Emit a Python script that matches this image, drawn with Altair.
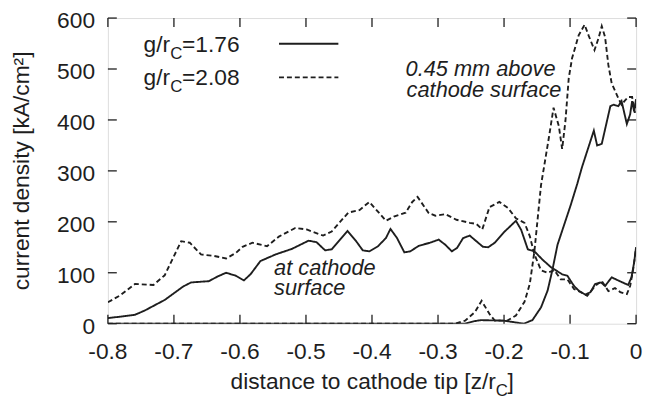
import altair as alt
import pandas as pd

# ---- data ----
# at cathode surface, g/rC = 1.76 (solid)
surf_176_x = [-0.8, -0.78, -0.759, -0.744, -0.714, -0.686, -0.674, -0.647, -0.634, -0.621, -0.606, -0.594,
              -0.584, -0.569, -0.546, -0.521, -0.496, -0.484, -0.471, -0.461, -0.437, -0.424, -0.414, -0.404,
              -0.391, -0.379, -0.372, -0.362, -0.351, -0.342, -0.329, -0.312, -0.299, -0.289, -0.279, -0.271,
              -0.262, -0.252, -0.242, -0.232, -0.224, -0.214, -0.199, -0.182, -0.174, -0.164, -0.154, -0.142,
              -0.129, -0.112, -0.104, -0.094, -0.087, -0.077, -0.069, -0.062, -0.053, -0.047, -0.037, -0.024,
              -0.012, -0.007, -0.003, 0.0]
surf_176_y = [11, 14, 17.5, 26, 46.6, 73, 81, 83.5, 92.6, 100, 94, 85,
              97, 123, 136, 147, 163, 160, 144, 146, 182, 162, 144, 142,
              152, 168, 186, 168, 140, 142, 153, 159, 165, 155, 142, 149,
              168, 173, 162, 151, 150, 159, 181, 202, 184, 146, 142, 126,
              111, 97, 94, 74, 65, 57, 62, 78, 81, 74, 91, 83,
              76, 91, 120, 150]

# at cathode surface, g/rC = 2.08 (dashed)
surf_208_x = [-0.8, -0.781, -0.759, -0.731, -0.714, -0.689, -0.676, -0.659, -0.639, -0.621, -0.606, -0.596,
              -0.581, -0.559, -0.541, -0.516, -0.499, -0.474, -0.461, -0.436, -0.419, -0.404, -0.391, -0.379,
              -0.367, -0.349, -0.339, -0.331, -0.314, -0.304, -0.289, -0.272, -0.252, -0.242, -0.233, -0.222,
              -0.207, -0.194, -0.182, -0.169, -0.161, -0.154, -0.144, -0.134, -0.124, -0.114, -0.104, -0.094,
              -0.084, -0.074, -0.062, -0.052, -0.042, -0.032, -0.024, -0.014, -0.009, -0.004, 0.0]
surf_208_y = [42, 56, 78, 76, 95, 162, 159, 136, 133, 128, 139, 151,
              159, 152, 171, 188, 185, 173, 181, 218, 223, 239, 220, 202,
              210, 218, 239, 249, 217, 212, 215, 204, 198, 196, 185, 229,
              239, 227, 207, 198, 172, 136, 105, 100, 105, 87, 87, 68,
              62, 55, 74, 84, 64, 70, 62, 58, 74, 110, 150]

# 0.45 mm above cathode surface, g/rC = 1.76 (solid)
above_176_x = [-0.8, -0.26, -0.245, -0.235, -0.2, -0.185, -0.17, -0.157, -0.144, -0.134, -0.127, -0.119,
               -0.109, -0.099, -0.089, -0.082, -0.077, -0.064, -0.059, -0.052, -0.039, -0.034, -0.027, -0.022,
               -0.014, -0.009, -0.006, -0.003, 0.0]
above_176_y = [0, 0, 5, 7, 6, 3, 0, 7, 32, 65, 104, 155,
               194, 233, 275, 307, 327, 379, 350, 353, 427, 430, 427, 437,
               392, 411, 437, 417, 441]

# 0.45 mm above cathode surface, g/rC = 2.08 (dashed)
above_208_x = [-0.8, -0.274, -0.259, -0.244, -0.234, -0.222, -0.214, -0.195, -0.182, -0.169, -0.161, -0.154,
               -0.149, -0.144, -0.139, -0.132, -0.125, -0.117, -0.112, -0.107, -0.102, -0.097, -0.087, -0.078,
               -0.072, -0.063, -0.057, -0.052, -0.047, -0.042, -0.037, -0.027, -0.022, -0.017, -0.012, -0.006,
               -0.002, 0.0]
above_208_y = [0, 0, 6, 23, 45, 19, 6, 6, 16, 43, 78, 142,
               207, 272, 311, 366, 424, 388, 343, 398, 482, 521, 566, 587,
               566, 537, 560, 584, 563, 508, 472, 443, 430, 438, 445, 445,
               414, 437]

x_ticks = [-0.8, -0.7, -0.6, -0.5, -0.4, -0.3, -0.2, -0.1, 0.0]
x_tick_labels = ["-0.8", "-0.7", "-0.6", "-0.5", "-0.4", "-0.3", "-0.2", "-0.1", "0"]
y_ticks = [0, 100, 200, 300, 400, 500, 600]
y_tick_labels = ["0", "100", "200", "300", "400", "500", "600"]

# ---- build table ----
rows = []
for name, style, xs, ys in [
    ("surf176", "solid", surf_176_x, surf_176_y),
    ("surf208", "dashed", surf_208_x, surf_208_y),
    ("above176", "solid", above_176_x, above_176_y),
    ("above208", "dashed", above_208_x, above_208_y),
]:
    for i, (xv, yv) in enumerate(zip(xs, ys)):
        rows.append({"curve": name, "style": style, "x": xv, "y": yv, "order": i})
df = pd.DataFrame(rows)

W, H = 534, 309
FONT = "Liberation Sans"
INK = "#1e1e1e"
FS = 23
SUB = 17

xscale = alt.Scale(domain=[-0.8, 0], nice=False, zero=False)
yscale = alt.Scale(domain=[0, 600], nice=False)

lines = alt.Chart(df).mark_line(strokeWidth=1.9, color=INK, clip=True).encode(
    x=alt.X("x:Q", scale=xscale, axis=None),
    y=alt.Y("y:Q", scale=yscale, axis=None),
    detail="curve:N",
    order="order:Q",
    strokeDash=alt.StrokeDash("style:N", scale=alt.Scale(domain=["solid", "dashed"], range=[[1, 0], [5, 3]]),
                              legend=None),
)

xt = pd.DataFrame({"v": x_ticks, "lab": x_tick_labels})
yt = pd.DataFrame({"v": y_ticks, "lab": y_tick_labels})
tick_style = dict(color=INK, strokeWidth=1.3)
xtick_b = alt.Chart(xt).mark_rule(**tick_style).encode(
    x=alt.X("v:Q", scale=xscale, axis=None), y=alt.value(H), y2=alt.value(H - 9))
xtick_t = alt.Chart(xt).mark_rule(**tick_style).encode(
    x=alt.X("v:Q", scale=xscale, axis=None), y=alt.value(0), y2=alt.value(9))
ytick_l = alt.Chart(yt).mark_rule(**tick_style).encode(
    y=alt.Y("v:Q", scale=yscale, axis=None), x=alt.value(0), x2=alt.value(9))
ytick_r = alt.Chart(yt).mark_rule(**tick_style).encode(
    y=alt.Y("v:Q", scale=yscale, axis=None), x=alt.value(W), x2=alt.value(W - 9))

xlab = alt.Chart(xt).mark_text(font=FONT, fontSize=FS, color=INK, align="center", baseline="top").encode(
    x=alt.X("v:Q", scale=xscale, axis=None), y=alt.value(H + 18), text="lab:N")
ylab = alt.Chart(yt).mark_text(font=FONT, fontSize=FS, color=INK, align="right", baseline="middle",
                               dy=3).encode(
    y=alt.Y("v:Q", scale=yscale, axis=None), x=alt.value(-13), text="lab:N")


def label(txt, px, py, size=FS, italic=False, align="left", baseline="alphabetic", angle=0):
    kw = dict(font=FONT, fontSize=size, color=INK, align=align, baseline=baseline)
    if italic:
        kw["fontStyle"] = "italic"
    if angle:
        kw["angle"] = angle
    return alt.Chart(pd.DataFrame({"t": [txt]})).mark_text(**kw).encode(
        text="t:N", x=alt.value(px), y=alt.value(py))


texts = [
    # legend
    label("g/r", 36, 34), label("C", 63, 41, size=SUB), label("=1.76", 75, 34),
    label("g/r", 36, 68), label("C", 63, 75, size=SUB), label("=2.08", 75, 68),
    # annotations
    label("0.45 mm above", 301, 59, size=22, italic=True),
    label("cathode surface", 302, 80, size=22, italic=True),
    label("at cathode", 168, 260, size=22, italic=True),
    label("surface", 168, 280, size=22, italic=True),
    # axis titles
    label("distance to cathode tip [z/r", 124, 375), label("C", 392, 382, size=SUB), label("]", 404, 375),
    label("current density [kA/cm²]", -87, H / 2, align="center", baseline="middle", angle=270),
]

leg_lines = [
    alt.Chart(pd.DataFrame({"s": ["solid"]})).mark_rule(color=INK, strokeWidth=1.9).encode(
        x=alt.value(173), x2=alt.value(233), y=alt.value(26)),
    alt.Chart(pd.DataFrame({"s": ["dashed"]})).mark_rule(color=INK, strokeWidth=1.9, strokeDash=[5, 3]).encode(
        x=alt.value(173), x2=alt.value(233), y=alt.value(60)),
]

chart = alt.layer(lines, xtick_b, xtick_t, ytick_l, ytick_r, xlab, ylab, *leg_lines, *texts).properties(
    width=W, height=H,
    autosize=alt.AutoSizeParams(type="none"),
    padding={"left": 101, "top": 8, "right": 8, "bottom": 78},
).configure_view(stroke=INK, strokeWidth=1.8).configure(background="white")

chart.save("out.html", embed_options={"renderer": "svg", "actions": False})
